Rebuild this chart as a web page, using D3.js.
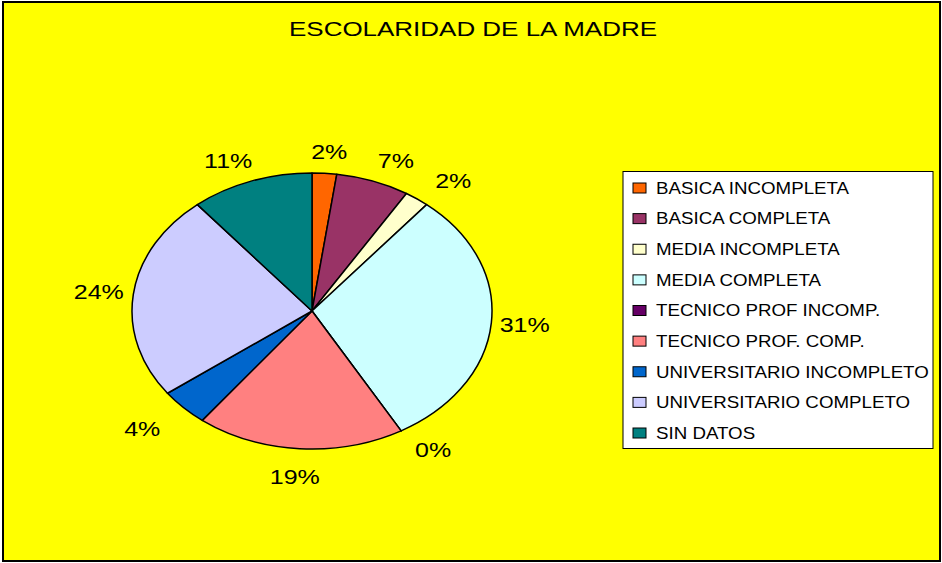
<!DOCTYPE html>
<html>
<head>
<meta charset="utf-8">
<script src="https://cdn.jsdelivr.net/npm/d3@7"></script>
<style>
  html, body { margin: 0; padding: 0; background: #fff; }
  svg { display: block; font-family: "Liberation Sans", Arial, sans-serif; }
</style>
</head>
<body>
<svg id="chart" width="942" height="563"></svg>
<script>
const title = "ESCOLARIDAD DE LA MADRE";
const categories = [
  "BASICA INCOMPLETA",
  "BASICA COMPLETA",
  "MEDIA INCOMPLETA",
  "MEDIA COMPLETA",
  "TECNICO PROF INCOMP.",
  "TECNICO PROF. COMP.",
  "UNIVERSITARIO INCOMPLETO",
  "UNIVERSITARIO COMPLETO",
  "SIN DATOS"
];
const values = [2, 6, 2, 28, 0, 17, 4, 22, 10];
const colors = ["#FF6600", "#993366", "#FFFFCC", "#CCFFFF", "#660066", "#FF8080", "#0066CC", "#CCCCFF", "#008080"];

const W = 942, H = 563;
const svg = d3.select("#chart");

// background + frame
svg.append("rect").attr("x", 3).attr("y", 2).attr("width", 937).attr("height", 559)
  .attr("fill", "#FFFF00").attr("stroke", "#000").attr("stroke-width", 2);

// title
svg.append("text").attr("x", 473).attr("y", 36)
  .attr("text-anchor", "middle")
  .attr("font-size", 20)
  .attr("textLength", 368).attr("lengthAdjust", "spacingAndGlyphs")
  .attr("fill", "#000").text(title);

// pie (ellipse)
const cx = 312, cy = 311, rx = 180, ry = 138;
const total = d3.sum(values);
const pie = d3.pie().sort(null).value(d => d)(values);
const arc = d3.arc().innerRadius(0).outerRadius(ry);

const pg = svg.append("g").attr("transform", `translate(${cx},${cy}) scale(${rx / ry},1)`);
pg.selectAll("path").data(pie).enter().append("path")
  .attr("d", arc)
  .attr("fill", (d, i) => colors[i])
  .attr("stroke", "#000").attr("stroke-width", 1.5)
  .attr("vector-effect", "non-scaling-stroke")
  .attr("stroke-linejoin", "round");

// labels
const lg = svg.append("g");
pie.forEach((d, i) => {
  const a = (d.startAngle + d.endAngle) / 2;
  const s = Math.sin(a), c = Math.cos(a);
  const x = cx + (rx + 30) * s + 40 * s * Math.abs(c);
  const y = cy - (ry + 22) * c + (c < 0 && s < 0 ? 6 : 0);
  lg.append("text")
    .attr("transform", `translate(${x},${y}) scale(1.25,1)`)
    .attr("text-anchor", "middle")
    .attr("dy", "0.36em")
    .attr("font-size", 20)
    .attr("fill", "#000")
    .text(Math.round(values[i] / total * 100) + "%");
});

// legend
const legX = 623, legY = 171.5, legW = 310, legH = 277;
svg.append("rect").attr("x", legX).attr("y", legY).attr("width", legW).attr("height", legH)
  .attr("fill", "#fff").attr("stroke", "#000").attr("stroke-width", 1);
const rowY = d3.scalePoint().domain(categories).range([188, 433]);
const leg = svg.append("g");
categories.forEach((c, i) => {
  const y = rowY(c);
  leg.append("rect").attr("x", 633).attr("y", y - 5).attr("width", 13).attr("height", 10)
    .attr("fill", colors[i]).attr("stroke", "#000").attr("stroke-width", 1);
  leg.append("text")
    .attr("transform", `translate(656,${y}) scale(1.17,1)`)
    .attr("dy", "0.36em")
    .attr("font-size", 16)
    .attr("fill", "#000")
    .text(c);
});
</script>
</body>
</html>
